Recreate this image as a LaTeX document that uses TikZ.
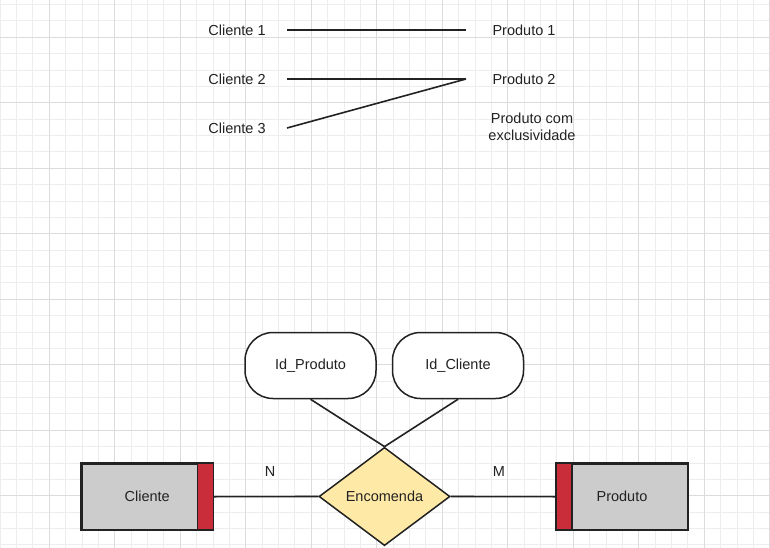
\documentclass[tikz,border=0pt]{standalone}
\usepackage{fontspec}
\setmainfont{Liberation Sans}
\usetikzlibrary{shapes.geometric}
\definecolor{gridminor}{HTML}{EDEDED}
\definecolor{gridmajor}{HTML}{DCDCDC}
\definecolor{boxgray}{HTML}{CCCCCC}
\definecolor{boxred}{HTML}{C92D39}
\definecolor{relfill}{HTML}{FFE9A6}
\definecolor{ink}{HTML}{222222}
\tikzset{
  lbl/.style={font=\fontsize{14.5}{17}\selectfont, text=ink, inner sep=0pt, align=center},
  conn/.style={draw=ink, line width=1.6pt},
  entity/.style={draw=ink, line width=1.6pt, fill=boxgray, minimum width=131pt, minimum height=65.3pt, inner sep=0pt, font=\fontsize{14.5}{17}\selectfont, text=ink},
  relation/.style={diamond, draw=ink, line width=1.5pt, fill=relfill, minimum width=131pt, minimum height=98.3pt, inner sep=0pt, font=\fontsize{14.5}{17}\selectfont, text=ink},
  attrib/.style={draw=ink, line width=1.5pt, fill=white, rounded corners=28pt, minimum width=131pt, minimum height=66pt, inner sep=0pt, font=\fontsize{14.5}{17}\selectfont, text=ink}
}
\begin{document}
\begin{tikzpicture}[x=1pt, y=-1pt]
\fill[white] (0,0) rectangle (770,548);
\useasboundingbox (0,0) rectangle (770,548);
% grid
\foreach \k in {0,...,47} {
  \pgfmathsetmacro{\gx}{0.175+16.375*\k}
  \draw[gridminor, line width=1pt] (\gx,0) -- (\gx,548);
}
\foreach \k in {0,...,33} {
  \pgfmathsetmacro{\gy}{4.55+16.375*\k}
  \draw[gridminor, line width=1pt] (0,\gy) -- (770,\gy);
}
\foreach \k in {0,...,11} {
  \pgfmathsetmacro{\gx}{49.3+65.5*\k}
  \draw[gridmajor, line width=1pt] (\gx,0) -- (\gx,548);
}
\foreach \k in {0,...,8} {
  \pgfmathsetmacro{\gy}{37.3+65.5*\k}
  \draw[gridmajor, line width=1pt] (0,\gy) -- (770,\gy);
}
% top section
\node[lbl] (c1) at (237,30) {Cliente 1};
\node[lbl] (c2) at (237,79) {Cliente 2};
\node[lbl] (c3) at (237,128) {Cliente 3};
\node[lbl] (p1) at (524,30) {Produto 1};
\node[lbl] (p2) at (524,79) {Produto 2};
\node[lbl] (p3) at (532,126.5) {Produto com\\exclusividade};
\coordinate (a1) at (287,30);
\coordinate (a2) at (287,79);
\coordinate (a3) at (287,128);
\coordinate (b1) at (466,30);
\coordinate (b2) at (466,79);
\draw[conn] (a1) -- (b1);
\draw[conn] (a2) -- (b2);
\draw[conn] (a3) -- (b2);
% bottom ER
\node[relation] (enc) at (384.5,496.5) {Encomenda};
\node[attrib] (idp) at (310.5,365.5) {Id\_Produto};
\node[attrib] (idc) at (458,365.5) {Id\_Cliente};
\node[entity] (cli) at (147.2,496.7) {Cliente};
\node[entity] (pro) at (622,496.7) {Produto};
\fill[boxred] (cli.north east) ++(-16,0) rectangle (cli.south east);
\fill[boxred] (pro.north west) rectangle ([xshift=16pt]pro.south west);
\draw[ink, line width=1.6pt] (cli.north east) ++(-16,0) -- ++(0,65.3);
\draw[ink, line width=1.6pt] ([xshift=16pt]pro.north west) -- ([xshift=16pt]pro.south west);
\draw[ink, line width=1.6pt] (cli.north west) rectangle (cli.south east);
\draw[ink, line width=1.6pt] (pro.north west) rectangle (pro.south east);
\draw[conn] (cli.east) -- (enc.west);
\draw[conn] (enc.east) -- (pro.west);
\draw[conn] (idp.south) -- (enc.north);
\draw[conn] (idc.south) -- (enc.north);
\node[lbl] (n) at (270,471.5) {N};
\node[lbl] (m) at (499,471.5) {M};
\end{tikzpicture}
\end{document}
